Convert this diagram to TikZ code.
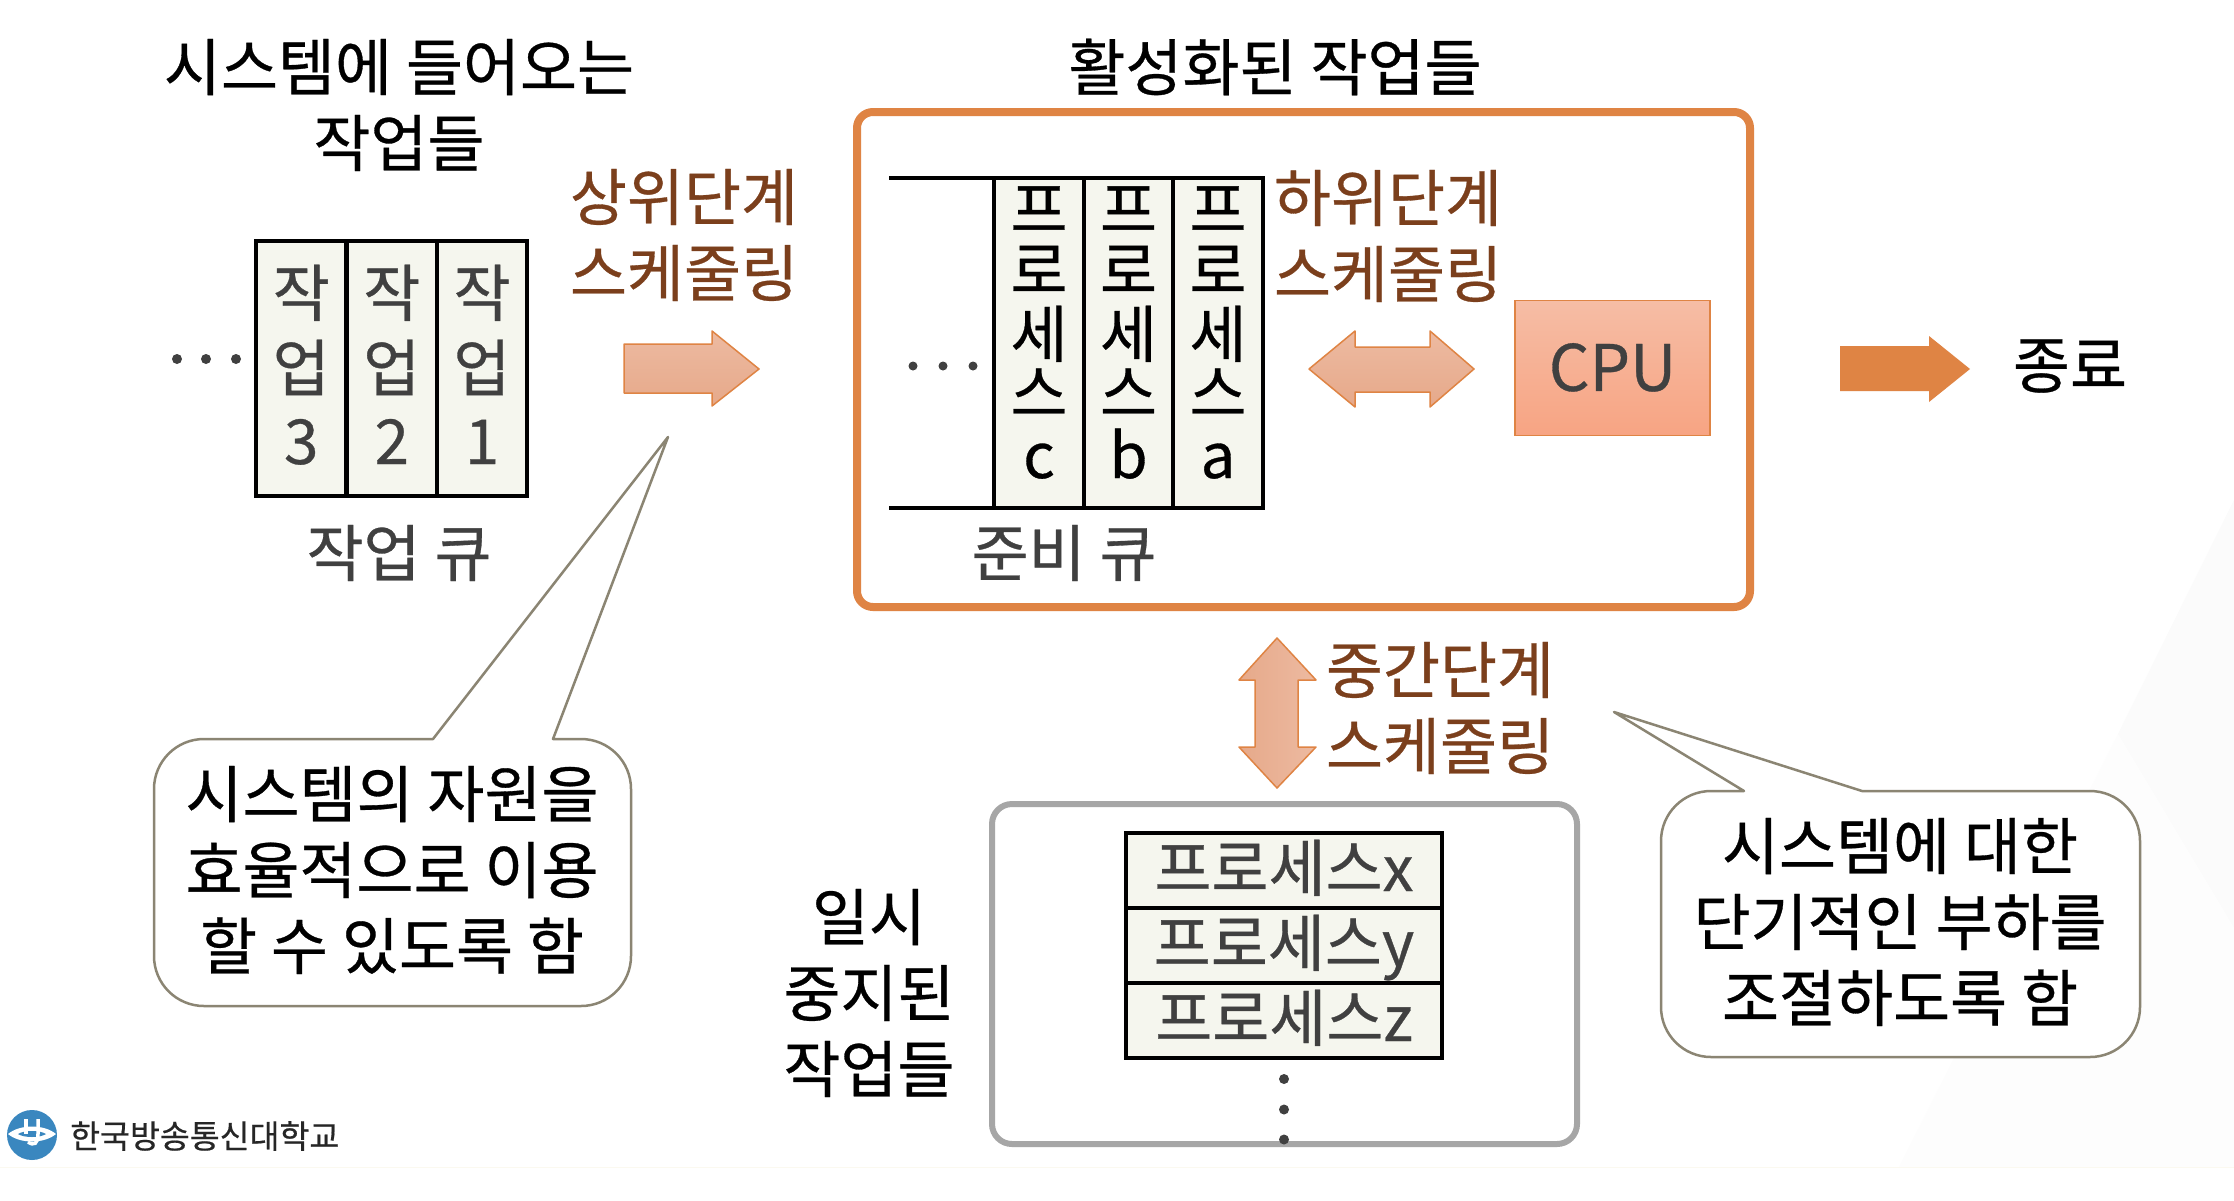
\documentclass[tikz,border=0pt]{standalone}
\usepackage{fontspec}
\setmainfont{Noto Sans CJK KR}[FakeBold=0.5]
\definecolor{brownt}{HTML}{7B3F1C}
\definecolor{grayt}{HTML}{404040}
\definecolor{cellf}{HTML}{F5F6EE}
\definecolor{orng}{HTML}{DF8444}
\definecolor{callb}{HTML}{8B8573}
\definecolor{arrowa}{HTML}{EDBAA1}
\definecolor{arrowb}{HTML}{E6A98A}
\definecolor{cputop}{HTML}{F6BDA5}
\definecolor{cpubot}{HTML}{F7A483}
\definecolor{logob}{HTML}{3A87BF}
\definecolor{faint}{HTML}{FBFBFB}
\definecolor{fainter}{HTML}{FDFDFD}
\definecolor{creamline}{HTML}{FBF9F0}
\tikzset{
  lbl/.style={inner sep=0pt,align=center,font=\fontsize{62}{76}\selectfont},
  blk/.style={lbl,text=black},
  gry/.style={lbl,text=grayt},
  brw/.style={lbl,text=brownt},
  chr/.style={inner sep=0pt,anchor=base,text=grayt,font=\fontsize{62}{62}\selectfont},
  chrb/.style={chr,text=black},
  cell/.style={draw=black,fill=cellf,line width=4.5pt},
  blockarrow/.style={draw=orng,line width=1.5pt,line join=round,top color=arrowa,bottom color=arrowb},
  dotm/.style={circle,fill=grayt,inner sep=0pt,minimum size=10pt},
  callout/.style={draw=callb,line width=2.5pt,fill=white,line join=round},
}
\begin{document}
\begin{tikzpicture}[x=1pt,y=-1pt]
\useasboundingbox (0,0) rectangle (2234,1200);
% faint background
\fill[white] (0,0) rectangle (2234,1200);
\fill[faint] (2234,500) -- (2118,734) -- (2234,928) -- cycle;
\fill[fainter] (2118,734) -- (1899,1167) -- (2234,1167) -- (2234,928) -- cycle;
\draw[line width=1pt,color=creamline] (0,1167) -- (2234,1167);
% titles
\node[blk] (t1) at (399,105) {시스템에 들어오는\\작업들};
\node[blk] (t2) at (1275,67) {활성화된 작업들};
% job queue
\foreach \a/\b/\t/\n in {256/346.5/3/c,346.5/437/2/b,437/527/1/a}{
  \draw[cell] (\a,241) rectangle (\b,496);
  \node[chr] (j1\n) at ({(\a+\b)/2},316) {작};
  \node[chr] (j2\n) at ({(\a+\b)/2},391) {업};
  \node[chr] (j3\n) at ({(\a+\b)/2},464) {\t};
}
\node[dotm] (jd1) at (177,359) {};
\node[dotm] (jd2) at (206,359) {};
\node[dotm] (jd3) at (236,359) {};
\node[gry] (jq) at (399,553) {작업 큐};
% upper scheduling
\node[brw] (up) at (684,235) {상위단계\\스케줄링};
\draw[blockarrow] (624,344) -- (712,344) -- (712,331) -- (759,369) -- (712,406) -- (712,393) -- (624,393) -- cycle;
% active box
\draw[draw=orng,line width=8pt,rounded corners=16pt] (857,112) rectangle (1750,607);
% ready queue
\foreach \a/\b/\t/\n in {994/1084/c/c,1084/1173/b/b,1173/1263/a/a}{
  \fill[cellf] (\a,178) rectangle (\b,508);
  \draw[black,line width=3.5pt] (\a,178) -- (\a,508) (\b,178) -- (\b,508);
  \node[chrb] (r1\n) at ({(\a+\b)/2},232) {프};
  \node[chrb] (r2\n) at ({(\a+\b)/2},293) {로};
  \node[chrb] (r3\n) at ({(\a+\b)/2},357) {세};
  \node[chrb] (r4\n) at ({(\a+\b)/2},416) {스};
  \node[chrb] (r5\n) at ({(\a+\b)/2},478) {\t};
}
\draw[black,line width=3.5pt] (889,178) -- (1265,178);
\draw[black,line width=4.5pt] (889,508) -- (1265,508);
\node[dotm,minimum size=9pt] (rd1) at (913,366) {};
\node[dotm,minimum size=9pt] (rd2) at (943,366) {};
\node[dotm,minimum size=9pt] (rd3) at (973,366) {};
\node[gry] (rq) at (1064,553) {준비 큐};
\node[brw] (low) at (1388,236) {하위단계\\스케줄링};
\draw[blockarrow] (1309,369) -- (1355,331) -- (1355,347) -- (1430,347) -- (1430,331) -- (1474,369) -- (1430,407) -- (1430,392) -- (1355,392) -- (1355,407) -- cycle;
\node[draw=orng,line width=1.5pt,top color=cputop,bottom color=cpubot,minimum width=195pt,minimum height=135pt,inner sep=0pt,text=grayt,font=\fontsize{64}{64}\selectfont] (cpu) at (1612.5,368) {\raisebox{2pt}{CPU}};
% end
\fill[orng] (1840,346) -- (1929,346) -- (1929,336) -- (1970,369) -- (1929,402) -- (1929,391) -- (1840,391) -- cycle;
\node[blk] (end) at (2070,366) {종료};
% medium
\draw[draw=orng,line width=1.5pt,line join=round,left color=arrowb,right color=arrowa] (1277,638) -- (1316,680) -- (1298,680) -- (1298,747) -- (1316,747) -- (1277,788) -- (1239,747) -- (1255,747) -- (1255,680) -- (1239,680) -- cycle;
\node[brw] (mid) at (1440,708) {중간단계\\스케줄링};
% suspended
\draw[draw=black!35,line width=6pt,rounded corners=20pt] (992,804) rectangle (1577,1144);
\foreach \a/\b/\t/\n/\bl in {833/908/x/x/891,908/983/y/y/966,983/1058/z/z/1041}{
  \draw[cell] (1126,\a) rectangle (1442,\b);
  \node[chr] (s\n) at (1284,\bl) {프로세스\t};
}
\node[dotm] (sd1) at (1284,1079) {};
\node[dotm] (sd2) at (1284,1109.5) {};
\node[dotm] (sd3) at (1284,1139.5) {};
\node[blk] (sus) at (869,993) {일시\\중지된\\작업들};
% callouts
\draw[callout] (433,739) -- (668,437) -- (553,739) [rounded corners=50pt] -- (631,739) -- (631,1006) -- (154,1006) -- (154,739) [sharp corners] -- cycle;
\node[blk] (c1) at (392,870) {시스템의 자원을\\효율적으로 이용\\할 수 있도록 함};
\draw[callout] (1744,791) -- (1614,712) -- (1862,791) [rounded corners=50pt] -- (2140,791) -- (2140,1057) -- (1661,1057) -- (1661,791) [sharp corners] -- cycle;
\node[blk] (c2) at (1900,922) {시스템에 대한\\단기적인 부하를\\조절하도록 함};
% logo
\fill[logob] (32,1135) circle (25);
\fill[white] (8,1134) .. controls (20,1124) and (44,1124) .. (56,1134) .. controls (44,1144) and (20,1144) .. (8,1134) -- cycle;
\fill[logob] (18,1134) .. controls (24,1130) and (40,1130) .. (46,1134) .. controls (40,1138) and (24,1138) .. (18,1134) -- cycle;
\draw[white,line width=3.5pt] (26,1119) -- (26,1134);
\draw[white,line width=3.5pt] (38,1119) -- (38,1134) .. controls (38,1144) and (34,1146) .. (28,1142);
\node[inner sep=0pt,anchor=west,text=black!85,font=\fontsize{32.5}{33}\selectfont] (logot) at (70,1136) {한국방송통신대학교};
\end{tikzpicture}
\end{document}
